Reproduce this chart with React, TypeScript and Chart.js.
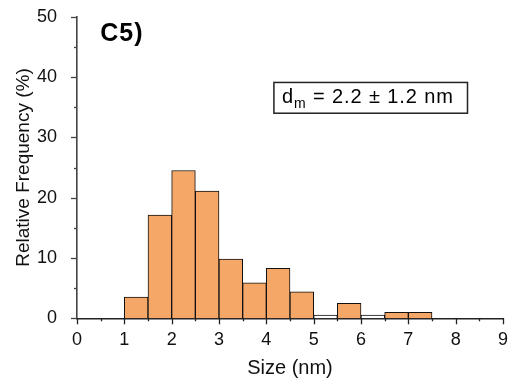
import { useEffect, useRef } from 'react';
import { Chart, registerables } from 'chart.js';

Chart.register(...registerables);

// ---- data ----
const binCenters = [1.25, 1.75, 2.25, 2.75, 3.25, 3.75, 4.25, 4.75, 5.25, 5.75, 6.25, 6.75, 7.25];
const frequencies = [3.5, 17.1, 24.5, 21.1, 9.8, 5.9, 8.3, 4.4, 0.55, 2.5, 0.55, 1.0, 1.0];
const hollowBins = [5.25, 6.25];
const xTickValues = [0, 1, 2, 3, 4, 5, 6, 7, 8, 9];
const yTickValues = [0, 10, 20, 30, 40, 50];
const xTitle = 'Size (nm)';
const yTitle = 'Relative Frequency (%)';
const panelLabel = 'C5)';
const statMain = 'd';
const statSub = 'm';
const statRest = ' = 2.2 \u00b1 1.2 nm';

const FONT = "'Liberation Sans', Arial, sans-serif";
const BAR_FILL = '#F4A766';

const decorations = {
  id: 'decorations',
  afterDraw(chart: any) {
    const { ctx, scales } = chart;
    const x = scales.x;
    const y = scales.y;
    ctx.save();
    // x ticks (major + minor), outward
    ctx.strokeStyle = '#222';
    ctx.lineWidth = 1.3;
    for (let v = x.min; v <= x.max + 1e-9; v += 0.5) {
      const px = Math.round(x.getPixelForValue(v)) + 0.5;
      const len = Math.abs(v - Math.round(v)) < 1e-9 ? 6 : 3;
      ctx.beginPath();
      ctx.moveTo(px, y.bottom);
      ctx.lineTo(px, y.bottom + len);
      ctx.stroke();
    }
    // y ticks
    ctx.strokeStyle = '#444';
    for (let v = y.min; v <= y.max + 1e-9; v += 5) {
      const py = Math.round(y.getPixelForValue(v)) + 0.5;
      const len = v % 10 === 0 ? 6 : 3;
      ctx.beginPath();
      ctx.moveTo(x.left, py);
      ctx.lineTo(x.left - len, py);
      ctx.stroke();
    }
    // panel label
    ctx.fillStyle = '#000';
    ctx.font = `bold 25px ${FONT}`;
    ctx.textBaseline = 'alphabetic';
    ctx.textAlign = 'left';
    (ctx as any).letterSpacing = '1px';
    ctx.fillText(panelLabel, x.getPixelForValue(0.49), y.getPixelForValue(45.9));
    // stat box
    const bx0 = x.getPixelForValue(4.16);
    const bx1 = x.getPixelForValue(8.25);
    const by0 = y.getPixelForValue(39.1);
    const by1 = y.getPixelForValue(34.0);
    ctx.strokeStyle = '#222';
    ctx.lineWidth = 1.5;
    ctx.strokeRect(bx0, by0, bx1 - bx0, by1 - by0);
    const base = by0 + 20.5;
    let tx = bx0 + 8;
    (ctx as any).letterSpacing = '0.9px';
    ctx.font = `20px ${FONT}`;
    ctx.fillText(statMain, tx, base);
    tx += ctx.measureText(statMain).width;
    ctx.font = `14px ${FONT}`;
    ctx.fillText(statSub, tx, base + 5);
    tx += ctx.measureText(statSub).width;
    ctx.font = `20px ${FONT}`;
    ctx.fillText(statRest, tx, base);
    (ctx as any).letterSpacing = '0px';
    ctx.restore();
  },
};

export default function App() {
  const canvasRef = useRef<HTMLCanvasElement | null>(null);

  useEffect(() => {
    document.body.style.margin = '0';
    const canvas = canvasRef.current;
    if (!canvas) return;
    const chart = new Chart(canvas, {
      type: 'bar',
      data: {
        datasets: [
          {
            data: binCenters.map((c, i) => ({ x: c, y: frequencies[i] })),
            backgroundColor: (ctx: any) =>
              hollowBins.includes(binCenters[ctx.dataIndex]) ? '#ffffff' : BAR_FILL,
            borderColor: '#111',
            borderWidth: 1,
            borderSkipped: 'start',
            barPercentage: 1,
            categoryPercentage: 1,
          } as any,
        ],
      },
      options: {
        responsive: false,
        animation: false,
        layout: { padding: { top: 16.7, right: 8, left: 0, bottom: 0 } },
        plugins: {
          legend: { display: false },
          tooltip: { enabled: false },
        },
        scales: {
          x: {
            type: 'linear',
            min: 0,
            max: 9,
            offset: false,
            afterBuildTicks: (scale: any) => {
              scale.ticks = xTickValues.map((v) => ({ value: v }));
            },
            ticks: {
              font: { family: FONT, size: 18 },
              color: '#111',
              padding: 3,
              maxRotation: 0,
              autoSkip: false,
            },
            grid: { display: false },
            border: { display: true, color: '#222', width: 1.5 },
            title: {
              display: true,
              text: xTitle,
              font: { family: FONT, size: 20 },
              color: '#111',
              padding: { top: 0, bottom: 3 },
            },
            afterFit: (scale: any) => {
              scale.height = 64.7;
              scale.paddingLeft = 0;
              scale.paddingRight = 0;
            },
          },
          y: {
            type: 'linear',
            min: 0,
            max: 50,
            afterBuildTicks: (scale: any) => {
              scale.ticks = yTickValues.map((v) => ({ value: v }));
            },
            ticks: {
              font: { family: FONT, size: 18 },
              color: '#111',
              padding: 12,
            },
            grid: { display: false },
            border: { display: true, color: '#444', width: 1.6 },
            title: {
              display: true,
              text: yTitle,
              font: { family: FONT, size: 19 },
              color: '#111',
              padding: { top: 12, bottom: 0 },
            },
            afterFit: (scale: any) => {
              scale.width = 77;
              scale.paddingTop = 0;
              scale.paddingBottom = 0;
            },
          },
        },
      },
      plugins: [decorations],
    } as any);
    return () => chart.destroy();
  }, []);

  return (
    <div style={{ width: 511, height: 383, position: 'relative', background: '#fff' }}>
      <canvas ref={canvasRef} width={511} height={383} />
    </div>
  );
}
